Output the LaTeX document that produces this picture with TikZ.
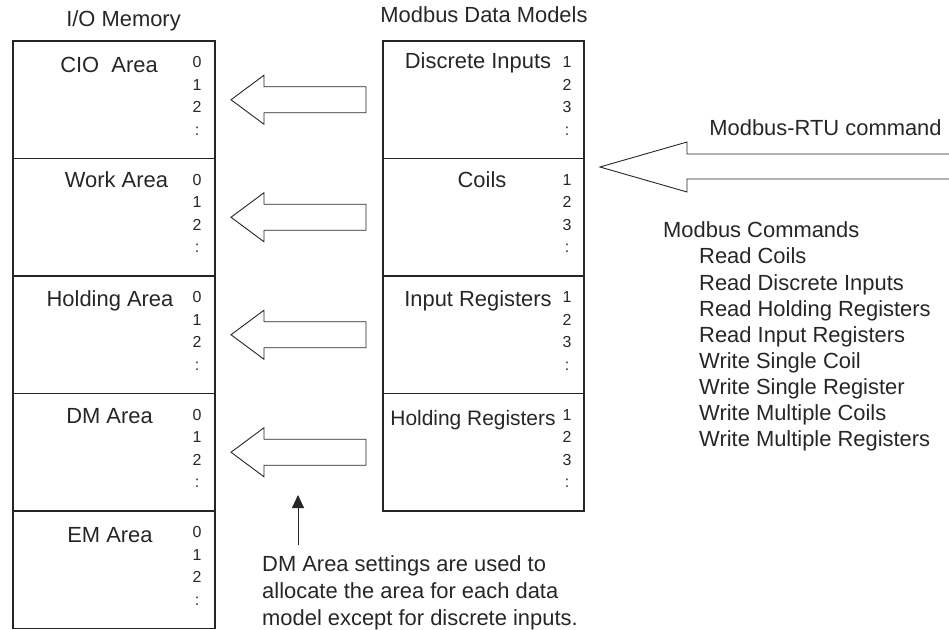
\documentclass[tikz,border=0pt]{standalone}
\usepackage{fontspec}
\setmainfont{Liberation Sans}
\usetikzlibrary{arrows.meta}
\begin{document}
\begin{tikzpicture}[x=1bp,y=-1bp,
  lbl/.style={font=\fontsize{22}{27}\selectfont, inner sep=0pt, anchor=base, text=black!85},
  num/.style={font=\fontsize{16}{18}\selectfont, inner sep=0pt, anchor=base, text=black!85},
  txt/.style={font=\fontsize{22}{27}\selectfont, inner sep=0pt, anchor=base west, text=black!85},
  sect/.style={draw=black!85, line width=1.3bp, inner sep=0pt, outer sep=0pt, anchor=north west},
  lsect/.style={sect, minimum width=202bp, minimum height=117.5bp},
  rsect/.style={sect, minimum width=201bp, minimum height=117.5bp},
  barrow/.style={draw=black!85, line width=0.9bp, line join=miter}]
\useasboundingbox (0,0) rectangle (949,630);

% titles
\node[lbl] (t1) at (123.5,27) {I/O Memory};
\node[lbl] (t2) at (484,23) {Modbus Data Models};

% left column
\node[lsect] (L1) at (13,41) {};
\node[lsect] (L2) at (13,158.5) {};
\node[lsect] (L3) at (13,276) {};
\node[lsect] (L4) at (13,393.5) {};
\node[lsect] (L5) at (13,511) {};

\node[lbl] (l1) at (109,73) {CIO~~Area};
\node[lbl] (l2) at (116.5,188) {Work Area};
\node[lbl] (l3) at (110,306) {Holding Area};
\node[lbl] (l4) at (109.5,423) {DM Area};
\node[lbl] (l5) at (110,542) {EM Area};

\foreach \T [count=\i] in {41,158.5,276,393.5,511}{
  \node[num] (ln\i a) at (197,\T+26.7) {0};
  \node[num] (ln\i b) at (197,\T+49.2) {1};
  \node[num] (ln\i c) at (197,\T+71.7) {2};
  \node[num] (ln\i d) at (197,\T+94.2) {:};
}

% right column
\node[rsect] (R1) at (383,41) {};
\node[rsect] (R2) at (383,158.5) {};
\node[rsect] (R3) at (383,276) {};
\node[rsect] (R4) at (383,393.5) {};

\node[lbl] (r1) at (478,69) {Discrete Inputs};
\node[lbl] (r2) at (482,188) {Coils};
\node[lbl] (r3) at (478,306) {Input Registers};
\node[lbl, font=\fontsize{21}{27}\selectfont] (r4) at (473,425) {Holding Registers};

\foreach \T [count=\i] in {41,158.5,276,393.5}{
  \node[num] (rn\i a) at (567,\T+26.7) {1};
  \node[num] (rn\i b) at (567,\T+49.2) {2};
  \node[num] (rn\i c) at (567,\T+71.7) {3};
  \node[num] (rn\i d) at (567,\T+94.2) {:};
}

% block arrows between the columns
\foreach \c in {99.75,217.25,334.75,452.25}{
  \draw[barrow] (231,\c) -- (264,\c-24.5) -- (264,\c-13) -- (366,\c-13)
    -- (366,\c+13) -- (264,\c+13) -- (264,\c+24.5) -- cycle;
}

% Modbus-RTU command arrow
\draw[barrow] (951,154) -- (687,154) -- (687,142) -- (600,167) -- (687,192)
  -- (687,179) -- (951,179);
\node[lbl] (rtu) at (825.5,136) {Modbus-RTU command};

% command list
\node[txt] (c0) at (663,238) {Modbus Commands};
\node[txt] (c1) at (699,264) {Read Coils};
\node[txt] (c2) at (699,290) {Read Discrete Inputs};
\node[txt] (c3) at (699,316) {Read Holding Registers};
\node[txt] (c4) at (699,342) {Read Input Registers};
\node[txt] (c5) at (699,368) {Write Single Coil};
\node[txt] (c6) at (699,394) {Write Single Register};
\node[txt] (c7) at (699,420) {Write Multiple Coils};
\node[txt] (c8) at (699,446) {Write Multiple Registers};

% note
\coordinate (pa) at (298,545);
\coordinate (pb) at (298,495);
\draw[line width=1bp, draw=black!85, -{Triangle[width=12bp,length=13bp]}] (pa) -- (pb);
\node[txt] (p1) at (262,571) {DM Area settings are used to};
\node[txt] (p2) at (262,598) {allocate the area for each data};
\node[txt] (p3) at (262,625) {model except for discrete inputs.};
\end{tikzpicture}
\end{document}
